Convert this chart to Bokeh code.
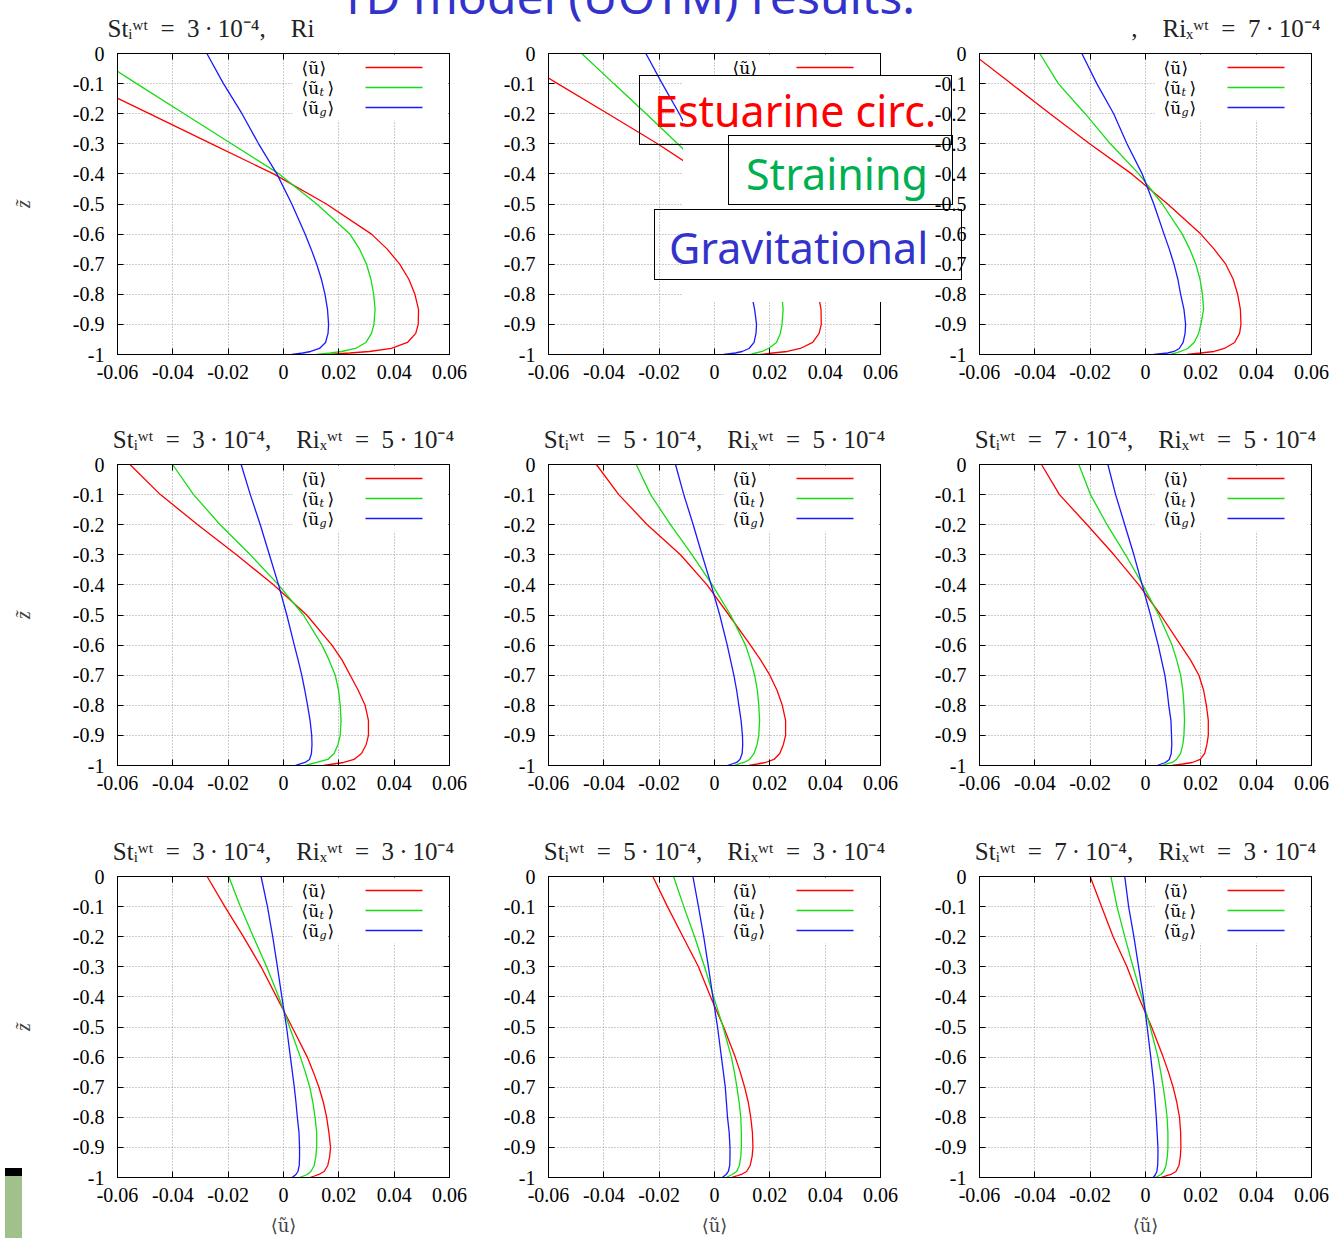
from bokeh.plotting import figure
from bokeh.layouts import gridplot, column
from bokeh.models import (Range1d, FixedTicker, LinearAxis, Label, BoxAnnotation,
                          CustomJSTickFormatter, Div)
from bokeh.embed import file_html
from bokeh.resources import INLINE

# ---------------- data ----------------
z = [0.0, -0.1, -0.2, -0.3, -0.4, -0.5, -0.6, -0.65, -0.7, -0.75, -0.8, -0.85, -0.9,
     -0.93, -0.96, -0.98, -0.99, -0.995, -1.0]

x_ticks = [-0.06, -0.04, -0.02, 0.0, 0.02, 0.04, 0.06]
x_tick_labels = ["-0.06", "-0.04", "-0.02", "0", "0.02", "0.04", "0.06"]
y_ticks = [0.0, -0.1, -0.2, -0.3, -0.4, -0.5, -0.6, -0.7, -0.8, -0.9, -1.0]
y_tick_labels = ["0", "-0.1", "-0.2", "-0.3", "-0.4", "-0.5", "-0.6", "-0.7", "-0.8", "-0.9", "-1"]

st_labels = ["3", "5", "7"]      # columns
ri_labels = ["7", "5", "3"]      # rows
legend_labels = [("⟨ũ", "", "⟩"), ("⟨ũ", "t", "⟩"), ("⟨ũ", "g", "⟩")]
slide_title = "1D model (UOTM) results:"
overlay_texts = ["Estuarine circ.", "Straining", "Gravitational"]

# row 1 : Ri = 7e-4
u_r1c1 = [-0.0935, -0.071, -0.0485, -0.026, -0.0036, 0.0155, 0.0318, 0.0375, 0.042, 0.0453, 0.0475, 0.0488, 0.0487, 0.0478, 0.0448, 0.039, 0.031, 0.024, 0.016]
ut_r1c1 = [-0.0701, -0.0531, -0.0359, -0.0188, -0.0016, 0.012, 0.024, 0.0275, 0.030, 0.0316, 0.0326, 0.0331, 0.0327, 0.0318, 0.0298, 0.026, 0.021, 0.017, 0.012]
ug_r1c1 = [-0.0277, -0.0217, -0.015, -0.009, -0.0024, 0.003, 0.0078, 0.010, 0.012, 0.0137, 0.015, 0.0159, 0.0163, 0.0161, 0.0152, 0.013, 0.0098, 0.007, 0.003]

u_r1c2 = [-0.0749, -0.0567, -0.0385, -0.0206, -0.004, 0.012, 0.024, 0.0285, 0.032, 0.0352, 0.0375, 0.0385, 0.0386, 0.0378, 0.0355, 0.031, 0.0263, 0.021, 0.0166]
ut_r1c2 = [-0.048, -0.0364, -0.0247, -0.0133, -0.002, 0.008, 0.016, 0.0188, 0.021, 0.0228, 0.0243, 0.0248, 0.0244, 0.0238, 0.0224, 0.0195, 0.0172, 0.015, 0.013]
ug_r1c2 = [-0.0248, -0.0189, -0.0127, -0.007, -0.0015, 0.0035, 0.0078, 0.0095, 0.011, 0.0123, 0.0134, 0.0145, 0.0152, 0.015, 0.0143, 0.0125, 0.010, 0.0075, 0.0033]

u_r1c3 = [-0.0626, -0.0486, -0.0345, -0.0202, -0.005, 0.008, 0.020, 0.0248, 0.029, 0.0317, 0.0333, 0.0343, 0.0345, 0.034, 0.0322, 0.0285, 0.0248, 0.020, 0.015]
ut_r1c3 = [-0.0382, -0.0315, -0.0218, -0.0127, -0.0024, 0.0061, 0.0133, 0.016, 0.0182, 0.0197, 0.0206, 0.021, 0.020, 0.0192, 0.0176, 0.0152, 0.0127, 0.011, 0.009]
ug_r1c3 = [-0.023, -0.0176, -0.0115, -0.0067, -0.0012, 0.003, 0.0067, 0.0086, 0.0103, 0.0117, 0.0127, 0.0139, 0.0145, 0.0143, 0.0136, 0.0122, 0.0103, 0.008, 0.003]

# row 2 : Ri = 5e-4
u_r2c1 = [-0.0555, -0.0445, -0.031, -0.017, -0.0035, 0.0084, 0.0175, 0.0212, 0.0241, 0.027, 0.0295, 0.0307, 0.0307, 0.0299, 0.0282, 0.0255, 0.0217, 0.018, 0.0145]
ut_r2c1 = [-0.0401, -0.0325, -0.0229, -0.012, -0.0018, 0.0072, 0.0139, 0.0165, 0.0187, 0.0199, 0.0205, 0.0208, 0.0205, 0.0197, 0.0183, 0.016, 0.012, 0.0098, 0.0078]
ug_r2c1 = [-0.0153, -0.012, -0.0084, -0.0051, -0.0018, 0.0012, 0.0039, 0.0053, 0.0066, 0.0077, 0.0087, 0.0096, 0.0102, 0.0103, 0.0101, 0.0094, 0.0078, 0.006, 0.0042]

u_r2c2 = [-0.0427, -0.0346, -0.0243, -0.0123, -0.0027, 0.0052, 0.013, 0.0167, 0.020, 0.0226, 0.0245, 0.0257, 0.0257, 0.0249, 0.0236, 0.0215, 0.0184, 0.0155, 0.0124]
ut_r2c2 = [-0.0283, -0.0231, -0.0159, -0.0081, -0.0008, 0.0058, 0.0112, 0.013, 0.0145, 0.0155, 0.016, 0.0163, 0.016, 0.0154, 0.0143, 0.0127, 0.0106, 0.0088, 0.007]
ug_r2c2 = [-0.0141, -0.0111, -0.0077, -0.0045, -0.0012, 0.0019, 0.0046, 0.0058, 0.007, 0.008, 0.0088, 0.0096, 0.0101, 0.0102, 0.010, 0.0092, 0.008, 0.0063, 0.0046]

u_r2c3 = [-0.0376, -0.0311, -0.0211, -0.0114, -0.0024, 0.0055, 0.0127, 0.0163, 0.0193, 0.021, 0.022, 0.0227, 0.0227, 0.0222, 0.0214, 0.0198, 0.0169, 0.0135, 0.0096]
ut_r2c3 = [-0.0241, -0.0199, -0.0139, -0.0072, -0.001, 0.0048, 0.0096, 0.0113, 0.0127, 0.0135, 0.0139, 0.0141, 0.0139, 0.0135, 0.0127, 0.0112, 0.0096, 0.0078, 0.006]
ug_r2c3 = [-0.0136, -0.0108, -0.0075, -0.0042, -0.0012, 0.0018, 0.0046, 0.0058, 0.007, 0.0078, 0.0084, 0.0092, 0.0094, 0.0095, 0.0093, 0.0086, 0.0072, 0.0057, 0.0042]

# row 3 : Ri = 3e-4
u_r3c1 = [-0.0276, -0.0212, -0.0145, -0.0081, -0.0025, 0.0031, 0.0086, 0.0108, 0.0128, 0.0144, 0.0156, 0.0164, 0.017, 0.0167, 0.016, 0.0147, 0.0128, 0.0112, 0.0095]
ut_r3c1 = [-0.0198, -0.0156, -0.0109, -0.0061, -0.0017, 0.0022, 0.0061, 0.0079, 0.0095, 0.0106, 0.0114, 0.012, 0.012, 0.0117, 0.0111, 0.0099, 0.0086, 0.0072, 0.0058]
ug_r3c1 = [-0.0081, -0.0058, -0.0039, -0.0022, -0.0006, 0.0011, 0.0025, 0.0032, 0.0039, 0.0045, 0.005, 0.0056, 0.0058, 0.0058, 0.0057, 0.0052, 0.0045, 0.0038, 0.0031]

u_r3c2 = [-0.0223, -0.017, -0.0114, -0.0058, -0.0014, 0.0033, 0.0075, 0.0093, 0.0109, 0.0122, 0.0131, 0.0137, 0.0139, 0.0136, 0.0129, 0.0116, 0.0097, 0.008, 0.0061]
ut_r3c2 = [-0.0148, -0.0111, -0.0072, -0.0036, -0.0003, 0.0031, 0.0061, 0.0072, 0.0081, 0.0089, 0.0095, 0.0097, 0.0097, 0.0095, 0.009, 0.008, 0.0064, 0.0053, 0.0042]
ug_r3c2 = [-0.0078, -0.0058, -0.0039, -0.0022, -0.0006, 0.0011, 0.0025, 0.0032, 0.0039, 0.0043, 0.0047, 0.0053, 0.0056, 0.0056, 0.0055, 0.005, 0.0042, 0.0035, 0.0028]

u_r3c3 = [-0.020, -0.0159, -0.0117, -0.0067, -0.0025, 0.0022, 0.0064, 0.0083, 0.010, 0.0113, 0.0123, 0.0127, 0.0128, 0.0126, 0.0121, 0.011, 0.0092, 0.0074, 0.0056]
ut_r3c3 = [-0.0125, -0.0103, -0.0075, -0.0045, -0.0014, 0.0017, 0.0045, 0.0055, 0.0064, 0.0072, 0.0078, 0.0081, 0.0081, 0.0079, 0.0074, 0.0066, 0.0056, 0.0046, 0.0036]
ug_r3c3 = [-0.0075, -0.0061, -0.0042, -0.0025, -0.0008, 0.0006, 0.0019, 0.0025, 0.0031, 0.0035, 0.0039, 0.0042, 0.0045, 0.0045, 0.0044, 0.0041, 0.0036, 0.0032, 0.0028]

panels = [
    [(u_r1c1, ut_r1c1, ug_r1c1), (u_r1c2, ut_r1c2, ug_r1c2), (u_r1c3, ut_r1c3, ug_r1c3)],
    [(u_r2c1, ut_r2c1, ug_r2c1), (u_r2c2, ut_r2c2, ug_r2c2), (u_r2c3, ut_r2c3, ug_r2c3)],
    [(u_r3c1, ut_r3c1, ug_r3c1), (u_r3c2, ut_r3c2, ug_r3c2), (u_r3c3, ut_r3c3, ug_r3c3)],
]

# ---------------- layout / style ----------------
COLORS = ["#ff0000", "#14dc14", "#1a1aff"]
FL = [117, 548, 979]          # frame left (page px)
FT = [53, 464, 876]           # frame top (page px)
FW, FH = 332, 301
BL = [117, 62, 62]
BR = [37, 37, 18]
BT = [53, 64, 65]
BB = [46, 46, 60]
SERIF = "Liberation Serif"
SANS = "Noto Sans"
EN, TH = "\u2002", "\u2009"


def px_x(c, gx):
    return x_ticks[0] + (gx - FL[c]) / FW * (x_ticks[-1] - x_ticks[0])


def px_y(r, gy):
    return y_ticks[0] - (gy - FT[r]) / FH * (y_ticks[0] - y_ticks[-1])


def box(r, c, l, rt, t, b, fill):
    return BoxAnnotation(left=px_x(c, l), right=px_x(c, rt), top=px_y(r, t), bottom=px_y(r, b),
                         fill_color=fill, fill_alpha=1.0, line_color=None)


def fmt(vals, labels):
    return CustomJSTickFormatter(args=dict(tvals=vals, tlabels=labels), code="""
        for (let i = 0; i < tvals.length; i++) {
            if (Math.abs(tvals[i] - tick) < 1e-9) { return tlabels[i]; }
        }
        return "";
    """)


def blank_fmt():
    return CustomJSTickFormatter(code="return '';")


def st_part(c):
    return f"Stᵢʷᵗ{EN}={EN}{st_labels[c]}{TH}·{TH}10⁻⁴,"


def ri_part(r):
    return f"Riₓʷᵗ{EN}={EN}{ri_labels[r]}{TH}·{TH}10⁻⁴"


figs = []
for r in range(3):
    row_figs = []
    for c in range(3):
        p = figure(frame_width=FW, frame_height=FH,
                   x_range=Range1d(x_ticks[0], x_ticks[-1]), y_range=Range1d(y_ticks[-1], y_ticks[0]),
                   output_backend="svg", toolbar_location=None,
                   min_border_left=BL[c], min_border_right=BR[c],
                   min_border_top=BT[r], min_border_bottom=BB[r],
                   background_fill_color="white", border_fill_color="white")
        p.outline_line_color = "black"
        p.outline_line_width = 1

        for ax, ticks, labels in ((p.xaxis[0], x_ticks, x_tick_labels), (p.yaxis[0], y_ticks, y_tick_labels)):
            ax.ticker = FixedTicker(ticks=ticks)
            ax.formatter = fmt(ticks, labels)
            ax.major_tick_in = 6
            ax.major_tick_out = 0
            ax.minor_tick_line_color = None
            ax.axis_line_color = "black"
            ax.major_tick_line_color = "black"
            ax.major_label_text_font = SERIF
            ax.major_label_text_font_size = "20px"
            ax.major_label_text_color = "black"
        p.xaxis[0].major_label_standoff = 10
        p.yaxis[0].major_label_standoff = 13

        if c == 0:
            p.yaxis[0].axis_label = "z\u0303"
            p.yaxis[0].axis_label_standoff = 36
            p.yaxis[0].axis_label_text_font = SERIF
            p.yaxis[0].axis_label_text_font_style = "italic"
            p.yaxis[0].axis_label_text_font_size = "20px"
        if r == 2:
            p.xaxis[0].axis_label = "⟨ũ⟩"
            p.xaxis[0].axis_label_standoff = 10
            p.xaxis[0].axis_label_text_font = "DejaVu Serif"
            p.xaxis[0].axis_label_text_font_style = "normal"
            p.xaxis[0].axis_label_text_font_size = "18px"

        # mirrored ticks (gnuplot style)
        for loc, ticks in (("right", y_ticks), ("above", x_ticks)):
            ax = LinearAxis(ticker=FixedTicker(ticks=ticks), formatter=blank_fmt(),
                            major_tick_in=6, major_tick_out=0, minor_tick_line_color=None,
                            major_label_text_font_size="1px", major_label_standoff=0,
                            axis_line_color="black", major_tick_line_color="black")
            p.add_layout(ax, loc)

        p.xgrid.ticker = FixedTicker(ticks=x_ticks[1:-1])
        p.ygrid.ticker = FixedTicker(ticks=y_ticks[1:-1])
        for g in (p.xgrid[0], p.ygrid[0]):
            g.grid_line_color = "#9a9a9a"
            g.grid_line_dash = "1 2"
            g.grid_line_width = 1

        u, ut, ug = panels[r][c]
        for vals, col in zip((u, ut, ug), COLORS):
            p.line(vals, z, line_color=col, line_width=1.3)

        # legend (gnuplot style: text left, sample right)
        p.add_layout(box(r, c, FL[c] + 175, FL[c] + 331, FT[r] + 1, FT[r] + 67, "white"))
        for i, (base, sub, close) in enumerate(legend_labels):
            yy = FT[r] + 14 + 20 * i
            p.add_layout(Label(x=px_x(c, FL[c] + 184), y=px_y(r, yy), text=base,
                               text_font="DejaVu Serif", text_font_size="17px",
                               text_align="left", text_baseline="middle", text_color="black"))
            if sub:
                p.add_layout(Label(x=px_x(c, FL[c] + 202), y=px_y(r, yy + 5), text=sub,
                                   text_font="DejaVu Serif", text_font_style="italic",
                                   text_font_size="11px",
                                   text_align="left", text_baseline="middle", text_color="black"))
            p.add_layout(Label(x=px_x(c, FL[c] + (210 if sub else 202)), y=px_y(r, yy), text=close,
                               text_font="DejaVu Serif", text_font_size="17px",
                               text_align="left", text_baseline="middle", text_color="black"))
            p.add_layout(box(r, c, FL[c] + 248, FL[c] + 305, yy - 0.8, yy + 0.8, COLORS[i]))

        # panel titles
        p.title.text_font = SERIF
        p.title.text_font_size = "25px"
        p.title.text_font_style = "normal"
        p.title.text_color = "#222222"
        p.title.standoff = 23
        if r > 0:
            p.title.text = f"{st_part(c)}{EN}{EN}{ri_part(r)}"
            p.title.align = "center"
        elif c == 0:
            p.title.text = f"{st_part(c)}{EN}{EN}Ri"
            p.title.align = "left"
            p.title.offset = -10
        elif c == 2:
            p.title.text = f",{EN}{EN}{ri_part(r)}"
            p.title.align = "right"
            p.title.offset = -9

        row_figs.append(p)
    figs.append(row_figs)

grid = gridplot(figs, toolbar_location=None)


# ---------------- slide overlays (html, absolutely placed) ----------------
def abs_div(html, left, top, width, height, css):
    st = {"position": "absolute", "left": f"{left}px", "top": f"{top}px",
          "width": f"{width}px", "height": f"{height}px", "z-index": "10",
          "box-sizing": "border-box", "overflow": "visible", "white-space": "nowrap"}
    st.update(css)
    return Div(text=html, styles=st, width=width, height=height)


TXT = {"font-family": "'Noto Sans', sans-serif", "font-size": "43px", "line-height": "43px"}
divs = [
    abs_div("", 678, 70, 239, 227, {"background-color": "white"}),
    abs_div(overlay_texts[0], 634, 70, 313, 70,
            dict(TXT, **{"border": "1.2px solid black", "color": "#ff0000",
                         "padding-left": "14px", "padding-top": "13px"})),
    abs_div(overlay_texts[1], 723, 130, 225, 70,
            dict(TXT, **{"border": "1.2px solid black", "color": "#00b050",
                         "padding-left": "17px", "padding-top": "16px"})),
    abs_div(overlay_texts[2], 649, 204, 308, 71,
            dict(TXT, **{"border": "1.2px solid black", "color": "#3333cc",
                         "padding-left": "14px", "padding-top": "16px"})),
    abs_div(slide_title, 333, -33, 600, 48,
            {"font-family": "'Noto Sans', sans-serif", "font-size": "48px", "line-height": "48px",
             "color": "#3333cc"}),
    abs_div("", 0, 1163, 17, 75, {"background-color": "#a0c08c", "border-top": "8px solid black"}),
]

layout = column(grid, *divs)

with open("out.html", "w") as f:
    f.write(file_html(layout, INLINE, title="1D model (UOTM) results"))
